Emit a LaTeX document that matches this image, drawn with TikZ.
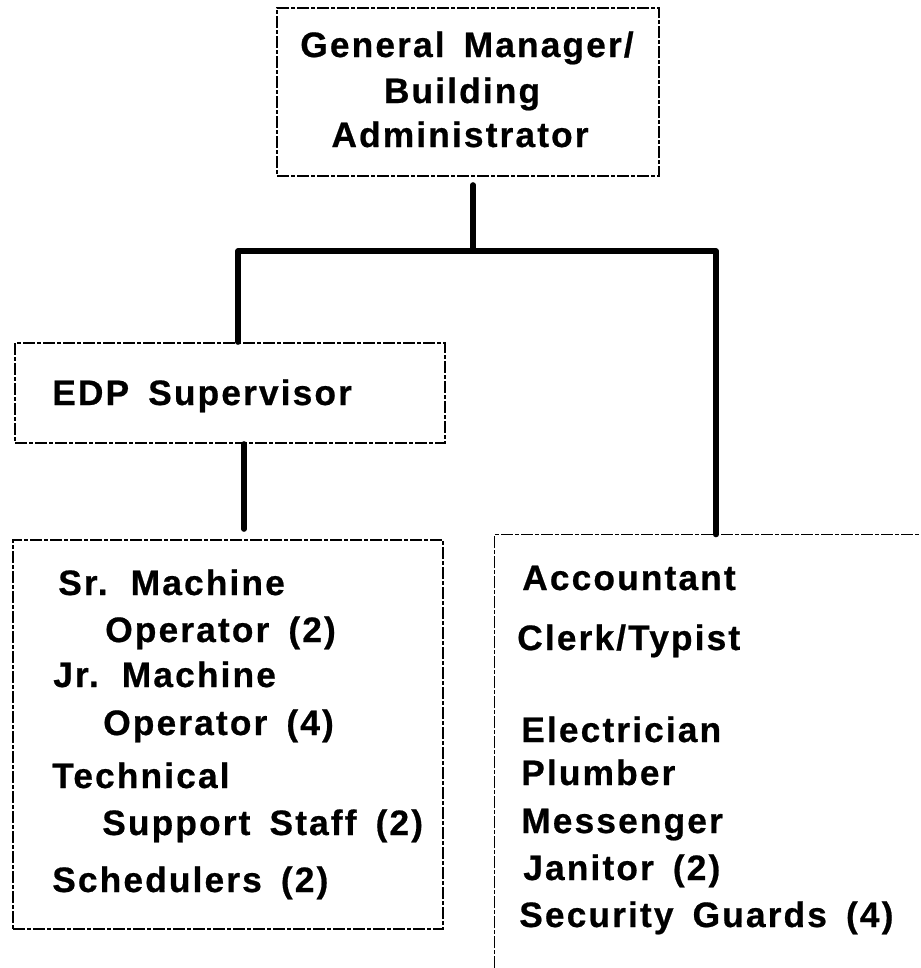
\documentclass[tikz,border=0pt]{standalone}
\usepackage{fontspec}
\setmainfont{Liberation Sans}[LetterSpace=6,WordSpace=1.6,BoldFeatures={FakeBold=0.6}]
\usetikzlibrary{fit}
\begin{document}
\begin{tikzpicture}[x=0.75pt,y=-0.75pt,
  box/.style={draw=black, line width=1.1pt, dash pattern=on 9pt off 1.5pt on 3pt off 1.5pt, inner sep=0pt},
  conn/.style={draw=black, line width=3.8pt, line cap=round, line join=round},
  lbl/.style={inner sep=0pt, anchor=base west, font=\fontsize{26.5}{30}\selectfont\bfseries},
  clbl/.style={lbl, anchor=base}]
\useasboundingbox (0,0) rectangle (921,968);
% boxes
\node[box, fit={(277,8) (659,176)}] (gm) {};
\node[box, fit={(15,343) (445,443)}] (edp) {};
\node[box, fit={(13,540) (443,929)}] (ops) {};
\node[inner sep=0pt, fit={(495,535) (921,968)}] (adm) {};
\draw[box] (adm.south west) -- (adm.north west) -- (adm.north east);
% texts
\node[clbl] (gm1) at (467,57) {General Manager/};
\node[clbl] (gm2) at (462,103) {Building};
\node[clbl] (gm3) at (460,147) {Administrator};
\node[lbl] (edpt) at (52,405) {EDP Supervisor};
\node[lbl] (o1) at (58,595) {Sr. Machine};
\node[lbl] (o2) at (105,642) {Operator (2)};
\node[lbl] (o3) at (53,687) {Jr. Machine};
\node[lbl] (o4) at (103,735) {Operator (4)};
\node[lbl] (o5) at (52,788) {Technical};
\node[lbl] (o6) at (102,835) {Support Staff (2)};
\node[lbl] (o7) at (52,892) {Schedulers (2)};
\node[lbl] (a1) at (522,590) {Accountant};
\node[lbl] (a2) at (517,650) {Clerk/Typist};
\node[lbl] (a3) at (521,742) {Electrician};
\node[lbl] (a4) at (521,785) {Plumber};
\node[lbl] (a5) at (521,833) {Messenger};
\node[lbl] (a6) at (523,880) {Janitor (2)};
\node[lbl] (a7) at (519,927) {Security Guards (4)};
% connectors
\coordinate (jm) at (473,251);
\coordinate (jl) at (238,251);
\coordinate (jr) at (716,251);
\coordinate (ex) at (244,0);
\draw[conn] (jm |- gm.south) ++(0,8) -- (jm);
\draw[conn] (jl |- edp.north) -- (jl) -- (jr) -- (jr |- adm.north);
\draw[conn] (ex |- edp.south) -- ([yshift=-0.75pt*-10]ex |- ops.north);
\end{tikzpicture}
\end{document}
